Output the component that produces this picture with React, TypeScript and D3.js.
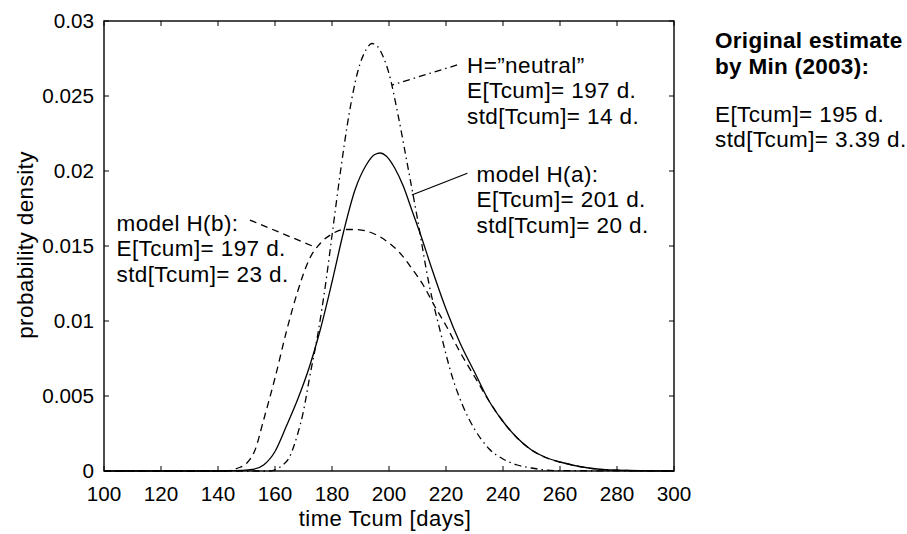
import React from "react";
import * as d3 from "d3";

// ---- data ----
const xTicks = [100, 120, 140, 160, 180, 200, 220, 240, 260, 280, 300];
const yTicks = [0, 0.005, 0.01, 0.015, 0.02, 0.025, 0.03];
const yTickLabels = ["0", "0.005", "0.01", "0.015", "0.02", "0.025", "0.03"];

const neutralDays = [100, 150, 158, 162, 165, 168, 170, 172, 175, 178, 180, 183, 186, 189, 192, 194, 196, 198, 200, 203, 206, 210, 214, 218, 222, 226, 230, 235, 240, 245, 250, 258, 300];
const neutralDensity = [0, 0, 0, 0.0003, 0.0009, 0.0025, 0.004, 0.0061, 0.0091, 0.0128, 0.0157, 0.02, 0.0238, 0.0266, 0.0281, 0.0285, 0.0283, 0.0276, 0.0265, 0.0239, 0.0209, 0.0168, 0.0125, 0.0093, 0.0064, 0.0043, 0.0028, 0.0015, 0.0008, 0.0004, 0.0002, 0.00003, 0];

const modelADays = [100, 140, 148, 152, 156, 160, 164, 168, 172, 176, 180, 184, 188, 192, 195, 197, 199, 202, 205, 208, 211, 215, 220, 225, 230, 235, 240, 245, 250, 255, 260, 270, 280, 300];
const modelADensity = [0, 0, 0.00004, 0.0001, 0.0004, 0.0013, 0.003, 0.0048, 0.0069, 0.0095, 0.0126, 0.0159, 0.0187, 0.0204, 0.0211, 0.0212, 0.021, 0.0202, 0.019, 0.0174, 0.0158, 0.0135, 0.0108, 0.0085, 0.0066, 0.0047, 0.0033, 0.0022, 0.0014, 0.0009, 0.0006, 0.0002, 0.00005, 0];

const modelBDays = [100, 143, 147, 150, 153, 156, 160, 164, 168, 172, 176, 180, 184, 188, 192, 196, 200, 204, 208, 212, 216, 220, 225, 230, 235, 240, 245, 250, 255, 260, 270, 280, 300];
const modelBDensity = [0, 0, 0.0002, 0.0005, 0.0014, 0.0034, 0.0062, 0.0093, 0.012, 0.0141, 0.0152, 0.0158, 0.0161, 0.0161, 0.016, 0.0157, 0.0152, 0.0145, 0.0135, 0.0124, 0.011, 0.0097, 0.0079, 0.0063, 0.0047, 0.0033, 0.0022, 0.0014, 0.0009, 0.0006, 0.0002, 0.00005, 0];

const neutralLabel = ["H=\u201dneutral\u201d", "E[Tcum]= 197 d.", "std[Tcum]= 14 d."];
const modelALabel = ["model H(a):", "E[Tcum]= 201 d.", "std[Tcum]= 20 d."];
const modelBLabel = ["model H(b):", "E[Tcum]= 197 d.", "std[Tcum]= 23 d."];
const originalTitle = ["Original estimate", "by Min (2003):"];
const originalLines = ["E[Tcum]= 195 d.", "std[Tcum]= 3.39 d."];
const xLabel = "time Tcum [days]";
const yLabel = "probability density";

// leader anchors in data units: [textDay, textDensity, curveDay, curveDensity]
const neutralLeader = [223.9, 0.02707, 201.0, 0.02573];
const modelALeader = [227.5, 0.01985, 208.0, 0.0184];
const modelBLeader = [151.2, 0.01673, 174.0, 0.01493];

const W = 907;
const H = 534;
const left = 104, right = 674, top = 21, bottom = 471;
const FONT = "'Liberation Sans', Arial, Helvetica, sans-serif";

export default function App() {
  const x = d3.scaleLinear().domain([100, 300]).range([left, right]);
  const y = d3.scaleLinear().domain([0, 0.03]).range([bottom, top]);

  const mk = (days: number[], vals: number[]) =>
    d3
      .line<number>()
      .x((_, i) => x(days[i]))
      .y((v) => y(v))
      .curve(d3.curveMonotoneX)(vals) || "";

  const neutralPath = mk(neutralDays, neutralDensity);
  const aPath = mk(modelADays, modelADensity);
  const bPath = mk(modelBDays, modelBDensity);

  const dashDot = "7,4,1.5,4";
  const dashed = "7,5";
  const sw = 1.3;
  const tickLen = 5;
  const fs = 22.5;

  const leader = (l: number[], dash?: string) => (
    <line
      x1={x(l[0])}
      y1={y(l[1])}
      x2={x(l[2])}
      y2={y(l[3])}
      stroke="#000"
      strokeWidth={sw}
      strokeDasharray={dash}
    />
  );

  const block = (lines: string[], xs: number, y0: number, bold = false) =>
    lines.map((t, i) => (
      <text
        key={t + i}
        x={xs}
        y={y0 + i * 25.5}
        fontSize={fs}
        fontWeight={bold ? "bold" : "normal"}
        fontFamily={FONT}
        letterSpacing={bold ? 0.3 : 0.4}
        fill="#000"
      >
        {t}
      </text>
    ));

  return (
    <svg
      width={W}
      height={H}
      style={{ position: "absolute", left: 0, top: 0, background: "#fff" }}
    >
      <rect x={0} y={0} width={W} height={H} fill="#fff" />
      {/* curves */}
      <path d={neutralPath} fill="none" stroke="#000" strokeWidth={sw} strokeDasharray={dashDot} />
      <path d={aPath} fill="none" stroke="#000" strokeWidth={sw} />
      <path d={bPath} fill="none" stroke="#000" strokeWidth={sw} strokeDasharray={dashed} />

      {/* ticks */}
      {xTicks.map((t) => (
        <g key={"xt" + t}>
          <line x1={x(t)} x2={x(t)} y1={bottom} y2={bottom - tickLen} stroke="#000" strokeWidth={1} />
          <line x1={x(t)} x2={x(t)} y1={top} y2={top + tickLen} stroke="#000" strokeWidth={1} />
          <text x={x(t)} y={500.5} textAnchor="middle" fontSize={20.7} fontFamily={FONT} fill="#000">
            {t}
          </text>
        </g>
      ))}
      {yTicks.map((t, i) => (
        <g key={"yt" + t}>
          <line x1={left} x2={left + tickLen} y1={y(t)} y2={y(t)} stroke="#000" strokeWidth={1} />
          <line x1={right} x2={right - tickLen} y1={y(t)} y2={y(t)} stroke="#000" strokeWidth={1} />
          <text x={94} y={y(t) + 7.3} textAnchor="end" fontSize={20.7} fontFamily={FONT} fill="#000">
            {yTickLabels[i]}
          </text>
        </g>
      ))}

      {/* frame */}
      <rect x={left} y={top} width={right - left} height={bottom - top} fill="none" stroke="#000" strokeWidth={1.4} />

      {/* axis labels */}
      <text
        x={(left + right) / 2 - 4}
        y={525.5}
        textAnchor="middle"
        fontSize={22}
        letterSpacing={0.5}
        fontFamily={FONT}
        fill="#000"
      >
        {xLabel}
      </text>
      <text
        transform={`translate(33, ${(top + bottom) / 2 - 1}) rotate(-90)`}
        textAnchor="middle"
        fontSize={fs}
        letterSpacing={0.4}
        fontFamily={FONT}
        fill="#000"
      >
        {yLabel}
      </text>

      {/* leaders */}
      {leader(neutralLeader, dashDot)}
      {leader(modelALeader)}
      {leader(modelBLeader, dashed)}

      {/* annotations */}
      {block(neutralLabel, 467, 72.5)}
      {block(modelALabel, 476.5, 181.5)}
      {block(modelBLabel, 116.5, 230.5)}
      {block(originalTitle, 715, 48, true)}
      {block(originalLines, 715, 121.5)}
    </svg>
  );
}
